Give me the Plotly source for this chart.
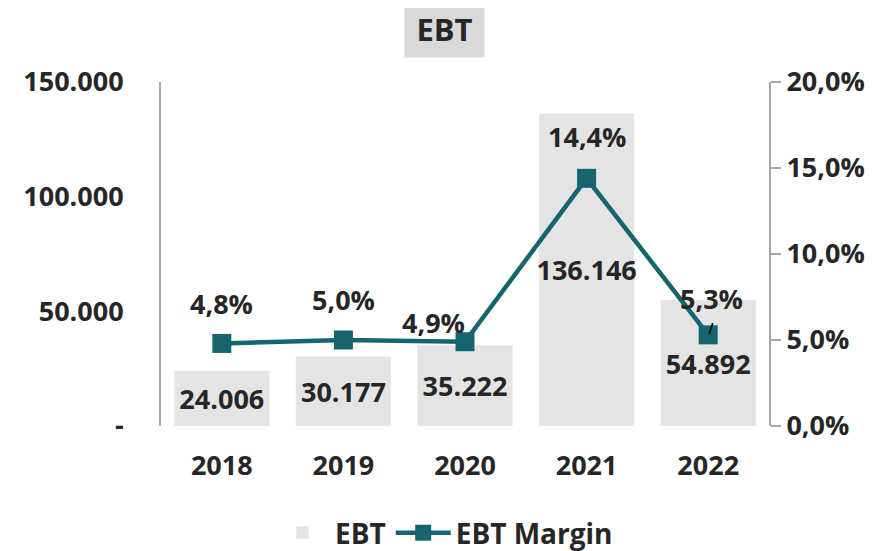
import plotly.graph_objects as go

years = ["2018", "2019", "2020", "2021", "2022"]
ebt = [24006, 30177, 35222, 136146, 54892]
ebt_margin = [0.048, 0.050, 0.049, 0.144, 0.053]

left_ticks = [0, 50000, 100000, 150000]
left_tick_text = ["-", "50.000", "100.000", "150.000"]
right_ticks = [0, 0.05, 0.10, 0.15, 0.20]

TEXT = "#262626"
FONT = "Open Sans"
BAR = "#e4e4e4"
LINE = "#15656f"
AXIS = "#a6a6a6"


def fmt_thousands(v):
    return f"{v:,}".replace(",", ".")


def fmt_pct(v):
    return f"{v * 100:.1f}%".replace(".", ",")


bold = dict(family=FONT, size=27, color=TEXT, weight="bold")

fig = go.Figure()

fig.add_trace(go.Bar(
    x=years, y=ebt, name="EBT",
    marker_color=BAR, width=0.78,
    text=[fmt_thousands(v) for v in ebt],
    textposition="inside", insidetextanchor="middle", textangle=0,
    constraintext="none", textfont=bold,
))

fig.add_trace(go.Scatter(
    x=years, y=ebt_margin, name="EBT Margin", yaxis="y2",
    mode="lines+markers",
    line=dict(color=LINE, width=4.5),
    marker=dict(symbol="square", size=19, color=LINE),
    cliponaxis=False,
))

# margin labels, nudged like the original (x given as category index,
# numeric-looking strings get read as indices on a category axis)
label_shift = [(0, 40), (0, 41), (-32, 19), (0, 42), (3, 36)]
for i, (m, (dx, dy)) in enumerate(zip(ebt_margin, label_shift)):
    fig.add_annotation(
        x=i, y=m, xref="x", yref="y2", text=fmt_pct(m), showarrow=False,
        xshift=dx, yshift=dy, font=bold,
    )

# little leader line on the last label
fig.add_annotation(
    x=len(years) - 1, y=ebt_margin[-1], xref="x", yref="y2", text="",
    showarrow=True, arrowhead=0, arrowwidth=1.8, arrowcolor="#000000",
    ax=4, ay=-12, xshift=1, yshift=1,
)

fig.add_annotation(
    x=(436 - 153) / 608, y=1, xref="paper", yref="paper", yanchor="bottom",
    yshift=24, text="EBT", showarrow=False, bgcolor="#d9d9d9",
    width=77, height=55, font=dict(bold, size=31),
)

# page has an 8px body margin, so the figure is drawn 8px in from the corner
fig.update_layout(
    width=879, height=543,
    margin=dict(l=153, r=118, t=74, b=125),
    plot_bgcolor="white", paper_bgcolor="white",
    font=bold,
    showlegend=True,
    legend=dict(
        orientation="h", x=(436 - 153) / 608, xanchor="center",
        yref="container", y=1 - 525 / 543, yanchor="middle",
        itemwidth=55, font=dict(bold, size=28),
    ),
    xaxis=dict(
        type="category", range=[-0.5, 4.5], automargin=False,
        showline=False, showgrid=False, zeroline=False,
        ticks="outside", ticklen=16, tickcolor="rgba(0,0,0,0)",
        tickfont=bold,
    ),
    yaxis=dict(
        range=[0, 150000], tickvals=left_ticks, ticktext=left_tick_text,
        automargin=False,
        showline=True, linecolor=AXIS, linewidth=2,
        showgrid=False, zeroline=False,
        ticks="outside", ticklen=30, tickcolor="rgba(0,0,0,0)",
        tickfont=bold,
    ),
    yaxis2=dict(
        overlaying="y", side="right", range=[0, 0.2],
        tickvals=right_ticks, ticktext=[fmt_pct(v) for v in right_ticks],
        automargin=False,
        showline=True, linecolor=AXIS, linewidth=2,
        showgrid=False, zeroline=False,
        ticks="outside", ticklen=10, tickcolor=AXIS, tickwidth=2,
        tickfont=bold,
    ),
)

fig.write_html("out.html")
